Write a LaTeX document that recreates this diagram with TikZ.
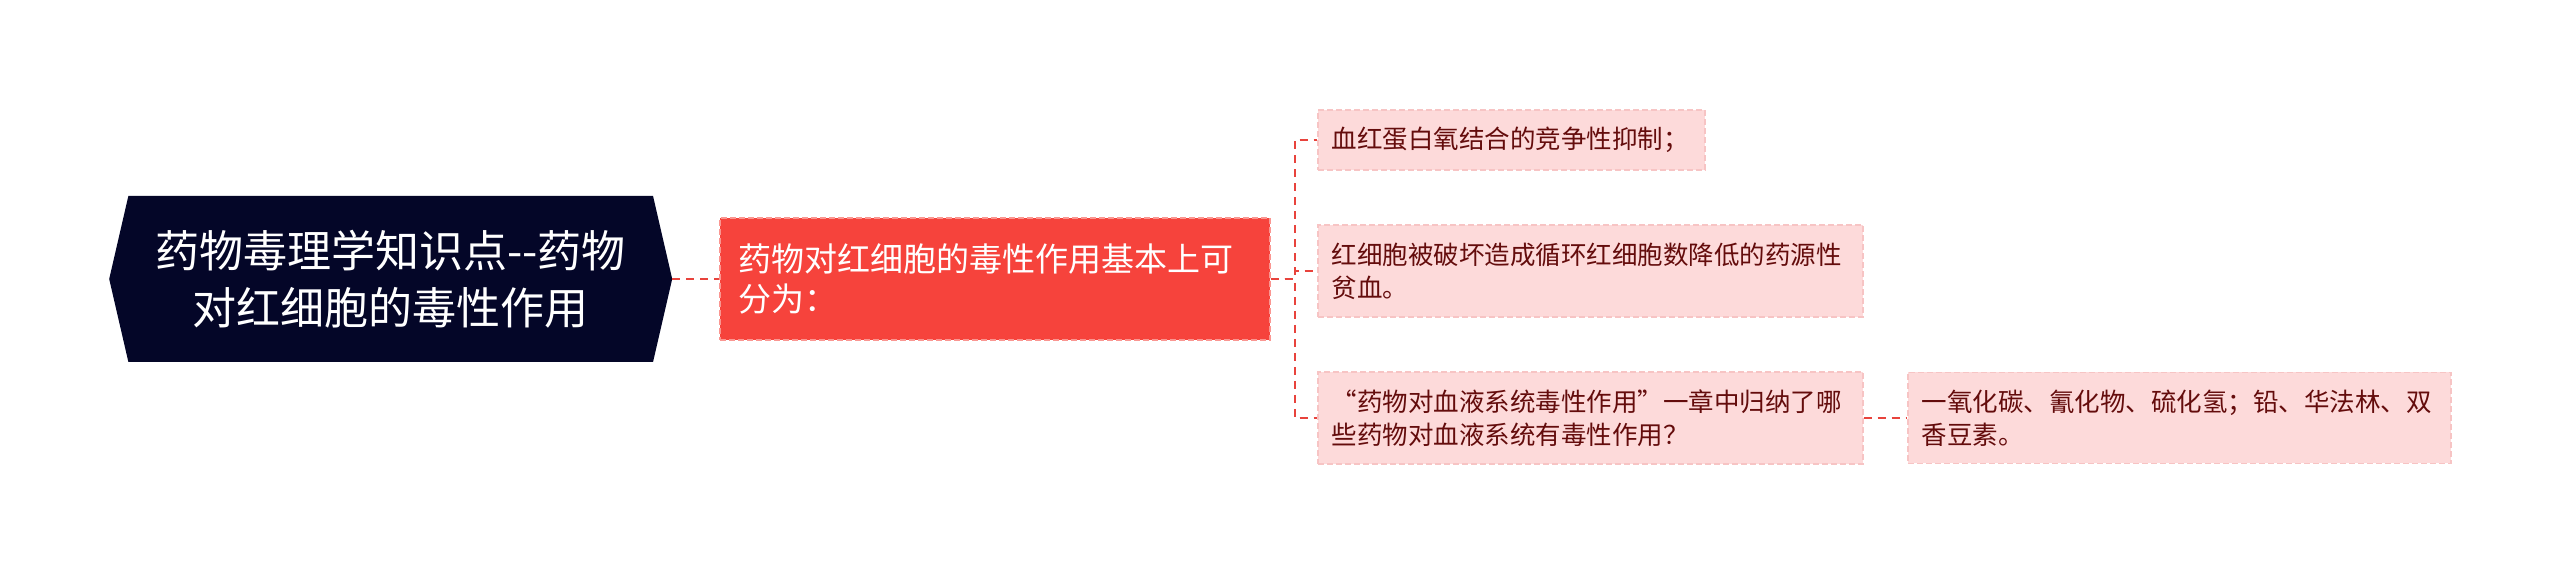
\documentclass[tikz,border=0pt]{standalone}
\usepackage{fontspec}
\setmainfont{Noto Sans CJK SC}
\newfontfamily\leaffont{Noto Sans CJK SC}[CharacterWidth=Full]
\usepackage{tikz}
\usetikzlibrary{shapes.symbols}
\definecolor{rootnavy}{RGB}{4,6,40}
\definecolor{mainred}{RGB}{246,67,60}
\definecolor{mainedge}{RGB}{250,150,145}
\definecolor{leafpink}{RGB}{253,218,218}
\definecolor{leafedge}{RGB}{247,196,196}
\definecolor{leaftext}{RGB}{100,12,12}
\definecolor{linkred}{RGB}{232,67,60}

\begin{document}
\begin{tikzpicture}[x=1pt, y=1pt, grow'=right, growth parent anchor=west,
    every node/.style = {anchor=west, inner ysep=0pt},
    rootbox/.style = {shape=signal, signal to=west and east, signal pointer angle=154,
      fill=rootnavy, text=white, align=center, minimum width=563pt, minimum height=166pt,
      font=\fontsize{44}{57}\selectfont},
    mainbox/.style = {shape=rectangle, fill=mainred, draw=mainedge, dash pattern=on 6pt off 3pt,
      line width=1.5pt, text=white, align=left, text width=512pt, inner xsep=19pt,
      minimum height=122pt, font=\fontsize{33}{40}\selectfont},
    leafbox/.style = {shape=rectangle, fill=leafpink, draw=leafedge, dash pattern=on 6pt off 3pt,
      line width=1.5pt, text=leaftext, align=left, text width=#1, inner xsep=14pt,
      font=\leaffont\fontsize{25.5}{33}\selectfont},
    level 1/.style = {level distance=610pt},
    level 2/.style = {level distance=598pt, sibling distance=139pt},
    level 3/.style = {level distance=590pt},
    edge from parent/.style = {draw=linkred, line width=2pt, dash pattern=on 8pt off 6pt},
    edge from parent path = {(\tikzparentnode.east) -- ++(24pt,0) |- (\tikzchildnode.west)}]
    \useasboundingbox (0,0) rectangle (2560,575);
    \node[rootbox] (root) at (109,296) {药物毒理学知识点-\kern0pt-药物\\对红细胞的毒性作用}
      child {node[mainbox] (main) {药物对红细胞的毒性作用基本上可\\分为：}
        child {node[leafbox=359pt, minimum height=60pt] (hemo) {血红蛋白氧结合的竞争性抑制；}}
        child {node[leafbox=517pt, minimum height=92pt, yshift=8pt] (anemia) {红细胞被破坏造成循环红细胞数降低的药源性\\贫血。}}
        child {node[leafbox=517pt, minimum height=92pt] (question) {“药物对血液系统毒性作用”一章中归纳了哪\\些药物对血液系统有毒性作用？}
          child {node[leafbox=515pt, minimum height=91pt] (agents) {一氧化碳、氰化物、硫化氢；铅、华法林、双\\香豆素。}}
        }
      };
  \end{tikzpicture}
\end{document}
